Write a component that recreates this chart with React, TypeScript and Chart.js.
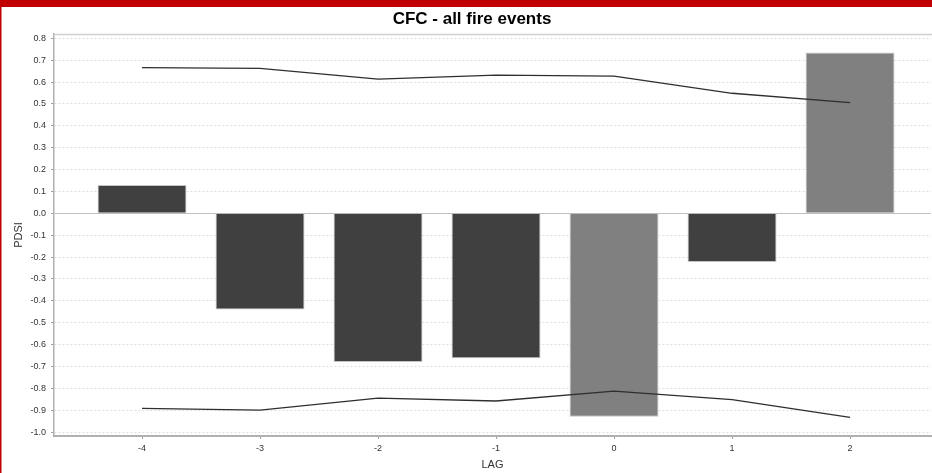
import React, { useEffect, useRef } from "react";
import { Chart, registerables } from "chart.js";

Chart.register(...registerables);

const chartTitle = "CFC - all fire events";
const xAxisTitle = "LAG";
const yAxisTitle = "PDSI";
const lags = [-4, -3, -2, -1, 0, 1, 2];
const pdsiValues = [0.13, -0.44, -0.68, -0.662, -0.93, -0.223, 0.735];
const significantLags = [0, 2];
const upperBound = [0.666, 0.663, 0.614, 0.632, 0.627, 0.549, 0.506];
const lowerBound = [-0.892, -0.9, -0.845, -0.858, -0.813, -0.852, -0.933];
const yTicks = [0.8, 0.7, 0.6, 0.5, 0.4, 0.3, 0.2, 0.1, 0, -0.1, -0.2, -0.3, -0.4, -0.5, -0.6, -0.7, -0.8, -0.9, -1.0];
const xTicks = [-4, -3, -2, -1, 0, 1, 2];

const FONT = "'Liberation Sans', Arial, sans-serif";

const framePlugin = {
  id: "frame",
  beforeDraw(chart: any) {
    const { ctx, width, height } = chart;
    ctx.save();
    ctx.fillStyle = "#ffffff";
    ctx.fillRect(0, 0, width, height);
    ctx.restore();
  },
  beforeDatasetsDraw(chart: any) {
    const { ctx, chartArea } = chart;
    ctx.save();
    ctx.strokeStyle = "#cfcfcf";
    ctx.lineWidth = 1.5;
    ctx.beginPath();
    ctx.moveTo(chartArea.left, chartArea.top + 0.5);
    ctx.lineTo(chartArea.right + 2, chartArea.top + 0.5);
    ctx.stroke();
    ctx.restore();
  },
  afterDraw(chart: any) {
    const { ctx, width, height } = chart;
    ctx.save();
    ctx.fillStyle = "#c00000";
    ctx.fillRect(0, 0, width, 7);
    ctx.fillRect(0, 0, 1.5, height);
    ctx.fillStyle = "#000000";
    ctx.font = "bold 17px " + FONT;
    ctx.textAlign = "center";
    ctx.textBaseline = "middle";
    ctx.fillText(chartTitle, 472, 19.5);
    ctx.restore();
  },
};

export default function App() {
  const ref = useRef<HTMLCanvasElement | null>(null);
  useEffect(() => {
    if (!ref.current) return;
    const chart = new Chart(ref.current, {
      type: "bar",
      data: {
        datasets: [
          {
            type: "line",
            label: "upper",
            data: lags.map((l, i) => ({ x: l, y: upperBound[i] })),
            borderColor: "#2e2e2e",
            borderWidth: 1.3,
            pointRadius: 0,
            tension: 0,
            fill: false,
            order: 1,
          } as any,
          {
            type: "line",
            label: "lower",
            data: lags.map((l, i) => ({ x: l, y: lowerBound[i] })),
            borderColor: "#2e2e2e",
            borderWidth: 1.3,
            pointRadius: 0,
            tension: 0,
            fill: false,
            order: 1,
          } as any,
          {
            type: "bar",
            label: "PDSI",
            data: lags.map((l, i) => ({ x: l, y: pdsiValues[i] })),
            backgroundColor: (c: any) =>
              significantLags.includes(lags[c.dataIndex]) ? "#808080" : "#404040",
            borderColor: "#c4c4c4",
            borderWidth: 1,
            categoryPercentage: 1,
            barPercentage: 0.754,
            order: 2,
          } as any,
        ],
      },
      options: {
        animation: false,
        responsive: false,
        events: [],
        layout: { padding: { top: 34, left: 0, right: 1, bottom: 0 } },
        plugins: {
          legend: { display: false },
          title: { display: false },
          tooltip: { enabled: false },
        },
        scales: {
          x: {
            type: "linear",
            min: -4.746,
            max: 2.686,
            offset: false,
            afterBuildTicks: (s: any) => {
              s.ticks = xTicks.map((v) => ({ value: v }));
            },
            afterFit: (s: any) => {
              s.height = 37;
            },
            grid: {
              offset: false,
              drawOnChartArea: false,
              drawTicks: true,
              tickLength: 3,
              tickColor: "#a0a0a0",
            },
            border: { display: true, color: "#b0b0b0", width: 2 },
            ticks: {
              padding: 4,
              color: "#333333",
              font: { family: FONT, size: 9 },
              callback: (v: any) => String(v),
            },
            title: {
              display: true,
              text: xAxisTitle,
              color: "#333333",
              font: { family: FONT, size: 11 },
              padding: { top: 0, bottom: 1.5 },
            },
          },
          y: {
            type: "linear",
            min: -1.018,
            max: 0.82,
            afterBuildTicks: (s: any) => {
              s.ticks = yTicks.map((v) => ({ value: v }));
            },
            afterFit: (s: any) => {
              s.width = 54;
            },
            grid: {
              drawOnChartArea: true,
              drawTicks: true,
              tickLength: 3,
              tickColor: "#a0a0a0",
              lineWidth: 1,
              color: (c: any) =>
                c.tick && Math.abs(c.tick.value) < 1e-9 ? "#c0c0c0" : "#dedede",
            },
            border: {
              display: true,
              color: "#b0b0b0",
              width: 1.5,
              dash: (c: any) =>
                c.tick && Math.abs(c.tick.value) < 1e-9 ? [] : [2, 2],
            } as any,
            ticks: {
              padding: 5,
              color: "#333333",
              font: { family: FONT, size: 9 },
              callback: (v: any) => Number(v).toFixed(1),
            },
            title: {
              display: true,
              text: yAxisTitle,
              color: "#333333",
              font: { family: FONT, size: 11 },
              padding: { top: 12, bottom: 0 },
            },
          },
        },
      } as any,
      plugins: [framePlugin],
    });
    return () => chart.destroy();
  }, []);
  return (
    <div style={{ position: "fixed", left: 0, top: 0, width: 932, height: 473, background: "#fff" }}>
      <canvas ref={ref} width={932} height={473} style={{ display: "block" }} />
    </div>
  );
}
